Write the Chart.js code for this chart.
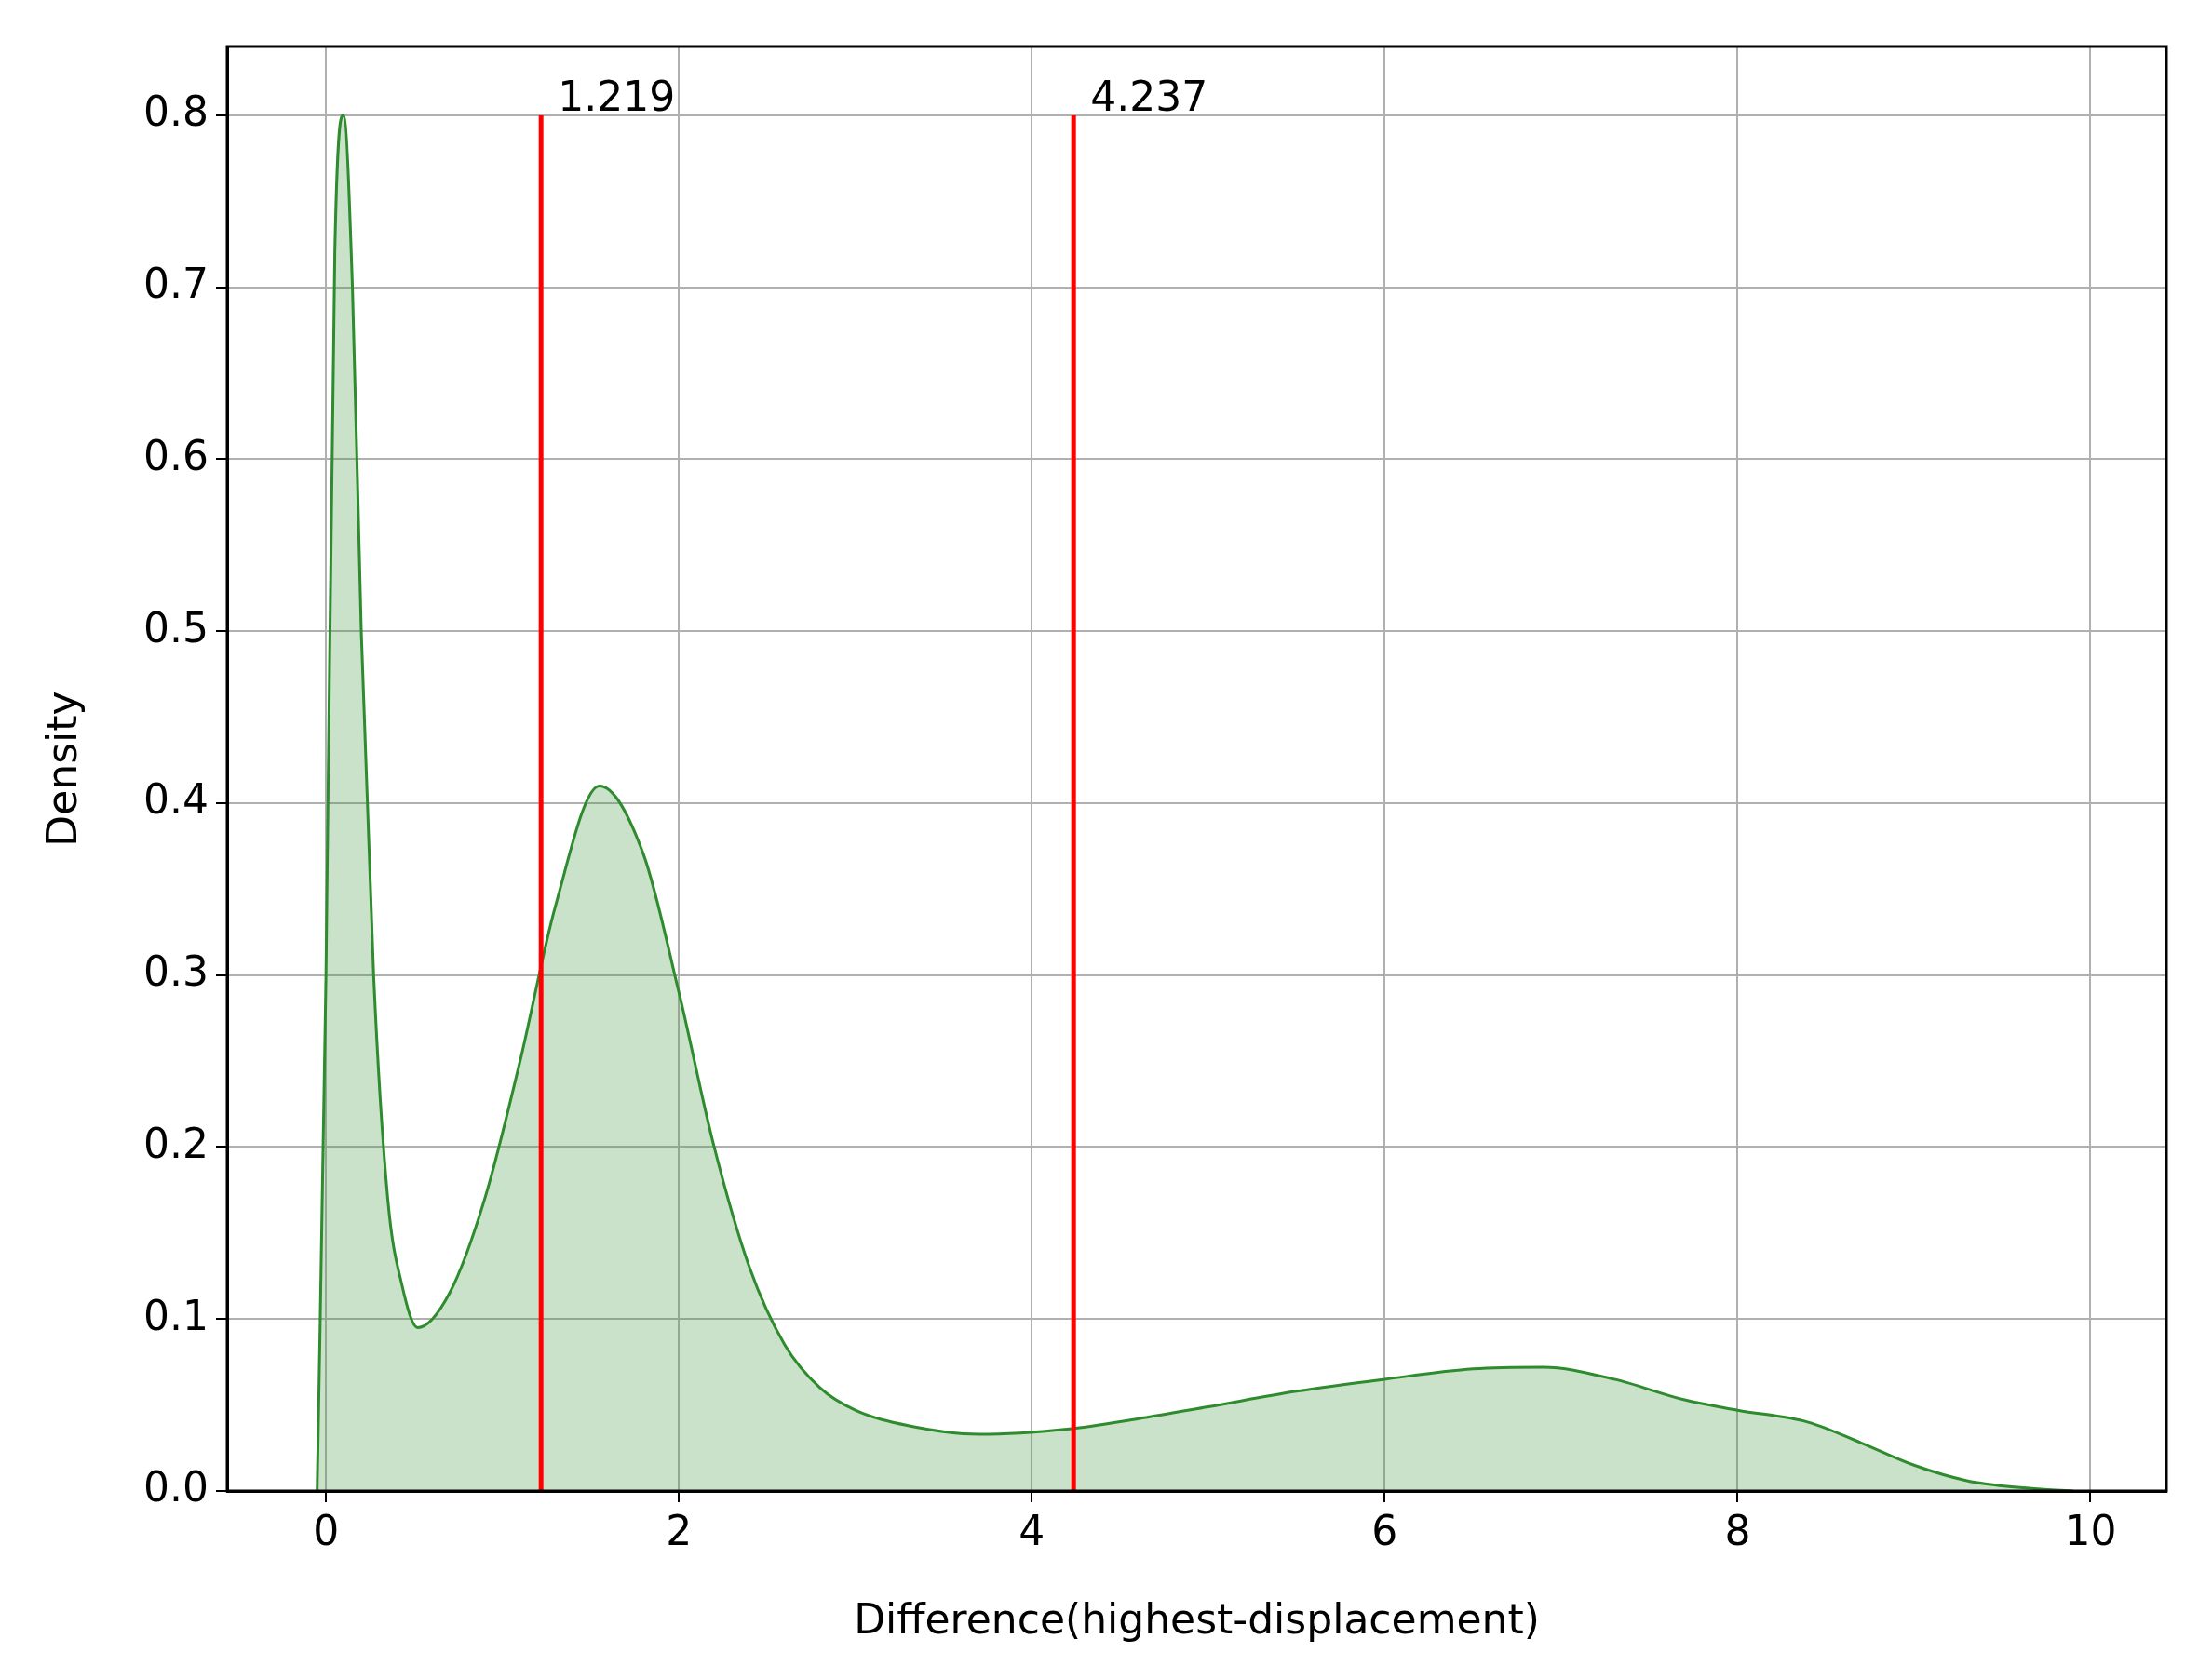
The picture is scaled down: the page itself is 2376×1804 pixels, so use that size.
<!DOCTYPE html>
<html><head><meta charset="utf-8">
<script src="https://cdn.jsdelivr.net/npm/chart.js@4"></script>
<style>html,body{margin:0;background:#fff}</style>
</head><body>
<canvas id="c" width="2376" height="1804" style="width:2376px;height:1804px"></canvas>
<script>
// density curve
const densityX = [-0.05, 0, 0.05, 0.1, 0.15, 0.2, 0.27, 0.35, 0.43, 0.52, 0.7, 0.9, 1.1, 1.3, 1.55, 1.8, 2.0, 2.2, 2.4, 2.6, 2.8, 3.0, 3.3, 3.7, 4.2, 4.6, 5.0, 5.5, 6.0, 6.5, 6.9, 7.3, 7.7, 8.0, 8.4, 8.7, 9.0, 9.3, 9.6, 9.9];
const densityY = [0, 0.3, 0.72, 0.8, 0.7, 0.5, 0.3, 0.17, 0.12, 0.095, 0.115, 0.17, 0.25, 0.34, 0.41, 0.37, 0.29, 0.2, 0.13, 0.085, 0.06, 0.047, 0.038, 0.033, 0.036, 0.042, 0.049, 0.058, 0.065, 0.071, 0.072, 0.065, 0.053, 0.047, 0.04, 0.028, 0.015, 0.006, 0.002, 0];
const markers = [1.219, 4.237];
const markerTop = 0.8;
const xTicks = [0, 2, 4, 6, 8, 10];
const yTicks = [0, 0.1, 0.2, 0.3, 0.4, 0.5, 0.6, 0.7, 0.8];

const font = { family: "DejaVu Sans", size: 44 };

const extras = {
  id: "extras",
  afterDatasetsDraw(chart) {
    const { ctx, chartArea: a, scales: { x, y } } = chart;
    ctx.save();
    ctx.font = "44px DejaVu Sans";
    ctx.fillStyle = "#000";
    ctx.textBaseline = "bottom";
    markers.forEach(m => ctx.fillText(m.toFixed(3), x.getPixelForValue(m) + 18, y.getPixelForValue(markerTop) + 6));
    ctx.strokeStyle = "#000";
    ctx.lineWidth = 3;
    ctx.strokeRect(a.left, a.top, a.right - a.left, a.bottom - a.top);
    ctx.restore();
  }
};

const datasets = [{
  data: densityX.map((v, i) => ({ x: v, y: densityY[i] })),
  borderColor: "#2e8b2e",
  backgroundColor: "rgba(60,150,60,0.28)",
  borderWidth: 3,
  fill: "origin",
  pointRadius: 0,
  cubicInterpolationMode: "monotone",
  order: 2
}];
markers.forEach(m => datasets.push({
  data: [{ x: m, y: 0 }, { x: m, y: markerTop }],
  borderColor: "#ff0000",
  borderWidth: 5,
  pointRadius: 0,
  fill: false,
  order: 1
}));

new Chart(document.getElementById("c"), {
  type: "line",
  data: { datasets },
  plugins: [extras],
  options: {
    responsive: false,
    animation: false,
    layout: { padding: { top: 50, right: 49, left: 40, bottom: 30 } },
    plugins: { legend: { display: false }, tooltip: { enabled: false } },
    scales: {
      x: {
        type: "linear", min: -0.56, max: 10.43,
        afterBuildTicks: s => { s.ticks = xTicks.map(v => ({ value: v })); },
        afterFit: s => { s.height = 172; },
        ticks: { font, color: "#000", padding: 8 },
        grid: { color: "#b0b0b0", lineWidth: 2, tickLength: 12, tickColor: "#000" },
        border: { color: "#000", width: 3 },
        title: { display: true, text: "Difference(highest-displacement)", font, color: "#000", padding: { top: 4 } }
      },
      y: {
        min: 0, max: 0.84,
        afterBuildTicks: s => { s.ticks = yTicks.map(v => ({ value: v })); },
        afterFit: s => { s.width = 204; },
        ticks: { font, color: "#000", padding: 8, callback: v => v.toFixed(1) },
        grid: { color: "#b0b0b0", lineWidth: 2, tickLength: 12, tickColor: "#000" },
        border: { color: "#000", width: 3 },
        title: { display: true, text: "Density", font, color: "#000", padding: { bottom: 4 } }
      }
    }
  }
});
</script>
</body></html>
